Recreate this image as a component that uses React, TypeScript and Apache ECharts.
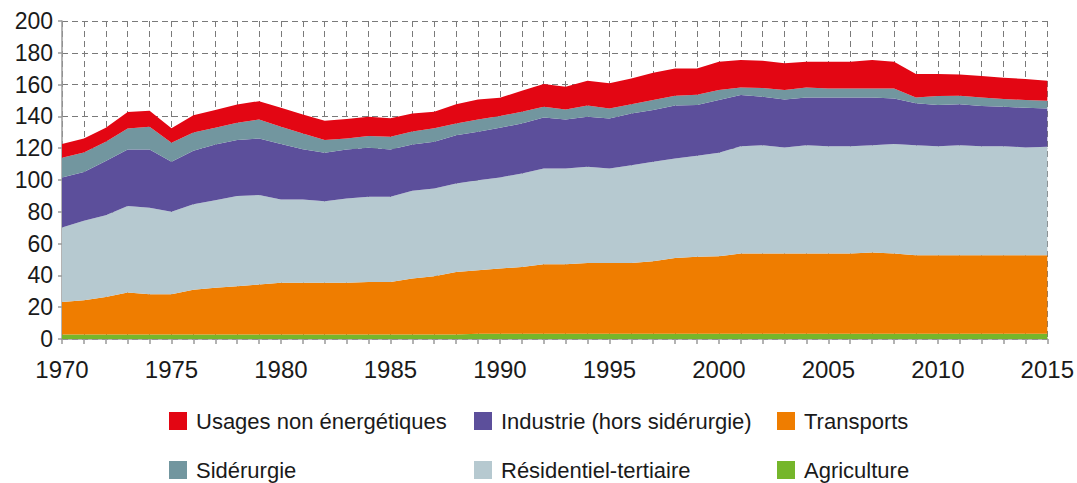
import React, { useEffect, useRef } from "react";
import * as echarts from "echarts";

const years: string[] = [];
for (let y = 1970; y <= 2015; y++) years.push(String(y));

const agriculture = [
  2.8, 2.8, 2.8, 2.8, 2.8, 2.8, 2.8, 2.8, 2.8, 2.8,
  2.8, 2.8, 2.8, 2.8, 2.8, 2.8, 2.8, 2.8, 2.8, 3.3,
  3.3, 3.3, 3.3, 3.3, 3.3, 3.3, 3.3, 3.3, 3.3, 3.3,
  3.3, 3.3, 3.3, 3.3, 3.3, 3.3, 3.3, 3.3, 3.3, 3.3,
  3.3, 3.3, 3.3, 3.3, 3.3, 3.3,
];
const transports = [
  20.5, 21.5, 23.6, 26.4, 25.3, 25.3, 28.2, 29.5, 30.4, 31.4,
  32.5, 32.5, 32.5, 32.5, 33.1, 33.1, 35.2, 36.7, 39.4, 39.9,
  41.0, 42.0, 43.7, 43.7, 44.5, 44.5, 44.5, 45.6, 47.7, 48.5,
  48.7, 50.4, 50.4, 50.4, 50.4, 50.4, 50.4, 51.1, 50.4, 49.4,
  49.4, 49.4, 49.4, 49.4, 49.4, 49.4,
];
const residentiel = [
  46.8, 50.0, 51.5, 54.5, 54.4, 51.9, 53.8, 55.0, 56.8, 56.3,
  52.4, 52.4, 51.4, 53.1, 53.5, 53.5, 55.2, 55.1, 55.6, 56.7,
  57.3, 58.8, 60.2, 60.2, 60.5, 59.4, 61.5, 62.5, 62.5, 63.5,
  65.1, 67.6, 68.2, 66.8, 68.2, 67.6, 67.6, 67.5, 68.9, 69.2,
  68.6, 69.2, 68.6, 68.6, 67.8, 68.2,
];
const industrie = [
  31.5, 30.8, 34.0, 35.5, 36.7, 31.4, 33.6, 35.1, 35.1, 35.6,
  34.9, 31.7, 30.4, 30.8, 30.9, 29.8, 29.2, 29.4, 30.4, 30.4,
  31.2, 31.5, 32.1, 30.9, 31.5, 31.5, 32.6, 32.6, 33.4, 31.8,
  33.2, 32.1, 30.5, 30.2, 30.0, 30.6, 30.6, 30.0, 28.7, 26.3,
  25.8, 25.8, 25.2, 24.8, 24.9, 24.1,
];
const siderurgie = [
  12.4, 12.2, 12.1, 13.2, 14.3, 12.0, 11.5, 10.4, 10.9, 12.0,
  10.9, 9.9, 8.0, 6.9, 7.3, 8.0, 8.1, 8.5, 7.4, 7.8,
  7.4, 7.3, 6.8, 6.3, 7.1, 6.3, 5.8, 6.3, 6.1, 6.5,
  6.3, 4.8, 5.4, 5.9, 6.3, 5.7, 5.7, 5.7, 6.3, 3.7,
  5.7, 5.3, 5.4, 4.8, 4.9, 4.8,
];
const usagesNonEnergetiques = [
  8.6, 8.8, 8.8, 10.3, 10.0, 9.2, 10.9, 11.2, 11.5, 11.5,
  11.9, 11.9, 12.1, 12.3, 12.2, 11.7, 11.4, 10.4, 12.1, 12.6,
  11.5, 13.2, 14.2, 14.3, 15.5, 15.8, 16.2, 17.2, 17.2, 16.6,
  17.8, 17.2, 17.2, 16.8, 16.2, 16.8, 16.8, 17.8, 16.8, 14.7,
  13.8, 13.4, 13.5, 13.4, 13.2, 12.6,
];

const names = {
  usages: "Usages non énergétiques",
  industrie: "Industrie (hors sidérurgie)",
  transports: "Transports",
  siderurgie: "Sidérurgie",
  residentiel: "Résidentiel-tertiaire",
  agriculture: "Agriculture",
};

const colors = {
  usages: "#e30613",
  industrie: "#5c4f9b",
  transports: "#ef7d00",
  siderurgie: "#72969f",
  residentiel: "#b6c9d0",
  agriculture: "#75b62b",
};

const FONT = "'Liberation Sans', Arial, Helvetica, sans-serif";

export default function App() {
  const ref = useRef<HTMLDivElement>(null);
  useEffect(() => {
    if (!ref.current) return;
    const chart = echarts.init(ref.current, null, { renderer: "svg" });
    const mk = (name: string, data: number[], color: string) => ({
      name,
      type: "line",
      stack: "total",
      data,
      symbol: "none",
      showSymbol: false,
      lineStyle: { width: 0 },
      itemStyle: { color },
      areaStyle: { color, opacity: 1 },
      emphasis: { disabled: true },
    });
    const leg = (name: string, left: number, top: number) => ({
      orient: "horizontal",
      left,
      top,
      itemWidth: 18,
      itemHeight: 18,
      icon: "rect",
      selectedMode: false,
      padding: 0,
      data: [name],
      textStyle: {
        fontFamily: FONT,
        fontSize: 22,
        color: "#1a1a1a",
        padding: [0, 0, 0, 4],
      },
    });
    const r1 = 410;
    const r2 = 459;
    chart.setOption({
      animation: false,
      backgroundColor: "#ffffff",
      textStyle: { fontFamily: FONT },
      grid: { left: 62, right: 29, top: 21, bottom: 144, containLabel: false },
      legend: [
        leg(names.usages, 169, r1),
        leg(names.industrie, 474, r1),
        leg(names.transports, 777, r1),
        leg(names.siderurgie, 169, r2),
        leg(names.residentiel, 474, r2),
        leg(names.agriculture, 777, r2),
      ],
      xAxis: {
        type: "category",
        data: years,
        boundaryGap: false,
        axisLine: { show: true, lineStyle: { color: "#9a9a9a", width: 1.5 } },
        axisTick: {
          show: true,
          interval: 0,
          length: 5,
          lineStyle: { color: "#9a9a9a", width: 1.5 },
        },
        axisLabel: {
          interval: 4,
          margin: 18,
          fontSize: 24,
          fontFamily: FONT,
          color: "#1a1a1a",
        },
        splitLine: {
          show: true,
          interval: 0,
          lineStyle: { color: "#7a7a7a", type: [6, 4], width: 1 },
        },
      },
      yAxis: {
        type: "value",
        min: 0,
        max: 200,
        interval: 20,
        axisLine: { show: true, lineStyle: { color: "#9a9a9a", width: 1.5 } },
        axisTick: { show: true, length: 4, lineStyle: { color: "#9a9a9a", width: 1.5 } },
        axisLabel: {
          margin: 9,
          fontSize: 23,
          fontFamily: FONT,
          color: "#1a1a1a",
        },
        splitLine: {
          show: true,
          lineStyle: { color: "#7a7a7a", type: [6, 4], width: 1 },
        },
      },
      series: [
        mk(names.agriculture, agriculture, colors.agriculture),
        mk(names.transports, transports, colors.transports),
        mk(names.residentiel, residentiel, colors.residentiel),
        mk(names.industrie, industrie, colors.industrie),
        mk(names.siderurgie, siderurgie, colors.siderurgie),
        mk(names.usages, usagesNonEnergetiques, colors.usages),
      ],
    });
    return () => chart.dispose();
  }, []);
  return (
    <div
      ref={ref}
      style={{ position: "fixed", left: 0, top: 0, width: 1077, height: 483, background: "#fff" }}
    />
  );
}
